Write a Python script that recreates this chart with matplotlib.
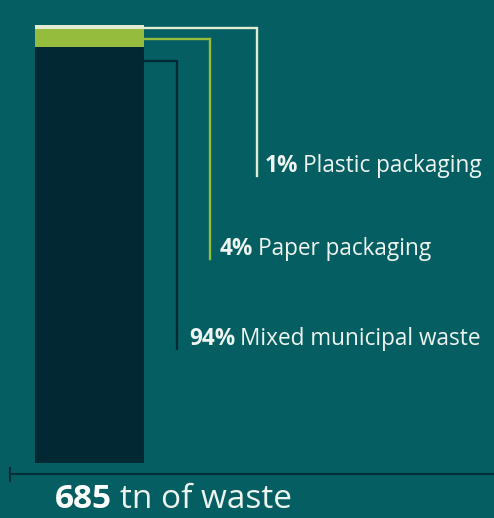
import matplotlib
matplotlib.use("Agg")
import matplotlib.pyplot as plt
from matplotlib.lines import Line2D

# waste composition, share of total tonnage (%)
categories = ["Mixed municipal waste", "Paper packaging", "Plastic packaging"]
shares = [94, 4, 1]
total_tn = 685

BG = "#055f62"
SEG_COLORS = ["#022833", "#96bc3e", "#e2ecd3"]
TXT = "#eef4ef"
FONT = "Open Sans"

W, H = 494, 518
fig = plt.figure(figsize=(W / 100, H / 100), dpi=100, facecolor=BG)

# axes in pixel-ish x units, y in percent
bar_bottom_px, bar_top_px = 463, 25
ax = fig.add_axes([0, (H - bar_bottom_px) / H, 1, (bar_bottom_px - bar_top_px) / H])
ax.set_facecolor(BG)
ax.set_xlim(0, W)
ax.set_ylim(0, sum(shares))
ax.axis("off")

bar_x, bar_w = 89.5, 109
bottom = 0
tops = []
for val, col in zip(shares, SEG_COLORS):
    ax.bar(bar_x, val, width=bar_w, bottom=bottom, color=col, linewidth=0)
    bottom += val
    tops.append(bottom)

# leader lines: (drop below segment top, elbow x, end y, label x)
leaders = [(3.1, 177, 25.8, 189), (2.2, 210, 46.1, 220), (0.7, 257, 64.9, 265)]
bar_right = bar_x + bar_w / 2

fig.canvas.draw()
renderer = fig.canvas.get_renderer()

for cat, val, top, col, (drop, ex, ey, lx) in zip(categories, shares, tops,
                                                  SEG_COLORS, leaders):
    ly = top - drop
    ax.plot([bar_right, ex, ex], [ly, ly, ey], color=col, lw=1.7,
            solid_joinstyle="miter", clip_on=False)
    t1 = ax.text(lx, ey + 2.2, f"{val}%", color=TXT, fontsize=16.3,
                 fontweight="bold", family=FONT, va="center", ha="left")
    bb = t1.get_window_extent(renderer)
    x2 = ax.transData.inverted().transform((bb.x1 + 4.5, 0))[0]
    ax.text(x2, ey + 2.2, cat, color=TXT, fontsize=16.3, family=FONT,
            va="center", ha="left")

# baseline with left tick
base_y = (H - 474) / H
fig.add_artist(Line2D([10 / W, 1], [base_y, base_y], color="#022d37", lw=1.5))
fig.add_artist(Line2D([10 / W, 10 / W], [(H - 468) / H, (H - 481) / H],
                      color="#022d37", lw=1.5))

# total label
ty = (H - 499) / H
t = fig.text(55 / W, ty, f"{total_tn}", color="white", fontsize=24,
             fontweight="bold", family=FONT, va="center", ha="left")
bb = t.get_window_extent(renderer)
fig.text((bb.x1 + 8) / W, ty, "tn of waste", color=TXT, fontsize=24,
         family=FONT, va="center", ha="left")

fig.savefig("out.png", dpi=100, facecolor=BG)
